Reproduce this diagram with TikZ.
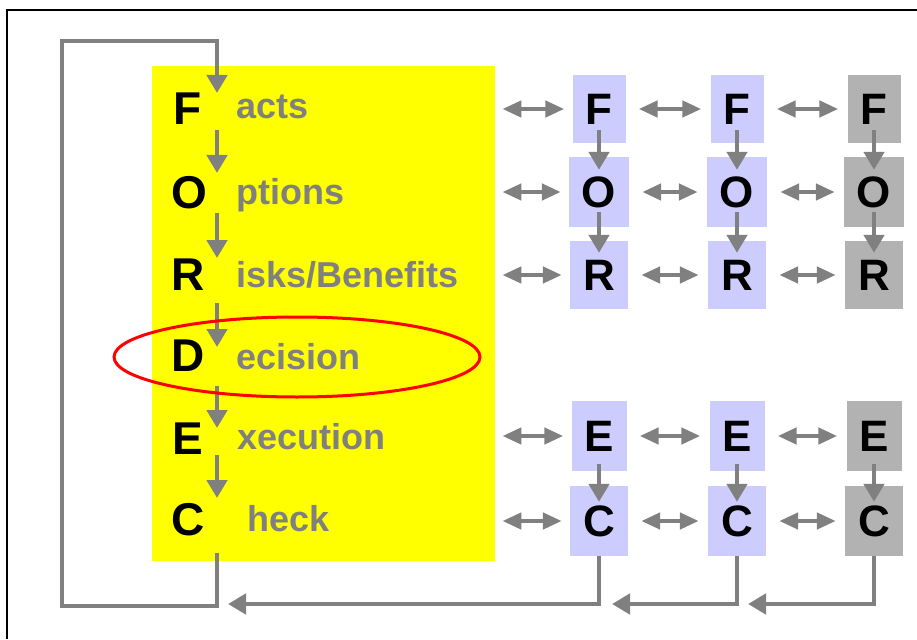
\documentclass[tikz,border=0pt]{standalone}
\usepackage{fontspec}
\setmainfont{Liberation Sans}
\usetikzlibrary{arrows.meta,shapes.geometric,calc}
\definecolor{lav}{RGB}{204,204,255}
\definecolor{gbox}{RGB}{178,178,178}
\definecolor{arrg}{RGB}{128,128,128}
\definecolor{yel}{RGB}{255,255,0}
\definecolor{redline}{RGB}{255,0,0}
\begin{document}
\begin{tikzpicture}[x=1pt,y=-1pt,
  big/.style={font=\fontsize{46}{46}\selectfont\bfseries, inner sep=0pt, anchor=base},
  word/.style={font=\fontsize{36}{36}\selectfont\bfseries, text=arrg, inner sep=0pt, anchor=base west},
  cell/.style={font=\fontsize{44}{44}\selectfont\bfseries, inner sep=0pt},
  arr/.style={draw=arrg, line width=4.5pt, line join=miter, -{Triangle[length=18pt,width=20pt]}},
  darr/.style={draw=arrg, line width=4.5pt, {Triangle[length=19pt,width=16pt]}-{Triangle[length=19pt,width=16pt]}},
]
\useasboundingbox (0,0) rectangle (917,639);
% frame
\draw[line width=2pt] (7,639) -- (7,10) -- (917,10);
% yellow panel
\node[fill=yel, minimum width=343pt, minimum height=495pt, inner sep=0pt, anchor=north west] (Y) at (152,66) {};
% left letters and words
\node[big] (lF) at (188,125) {F};
\node[big] (lO) at (189,208) {O};
\node[big] (lR) at (188,290) {R};
\node[big] (lD) at (188,371) {D};
\node[big] (lE) at (188,454) {E};
\node[big] (lC) at (188,535) {C};
\node[word] (wF) at (236,119) {acts};
\node[word] (wO) at (236,204) {ptions};
\node[word] (wR) at (236,287) {isks/Benefits};
\node[word] (wD) at (236,369) {ecision};
\node[word] (wE) at (237,449) {xecution};
\node[word] (wC) at (247,531) {heck};
% left chain arrows
\coordinate (a1) at (217,130); \coordinate (b1) at (217,173);
\coordinate (a2) at (217,213); \coordinate (b2) at (217,258);
\coordinate (a3) at (217,303); \coordinate (b3) at (217,347);
\coordinate (a4) at (217,386); \coordinate (b4) at (217,428);
\coordinate (a5) at (217,455); \coordinate (b5) at (217,498);
\draw[arr] (a1) -- (b1);
\draw[arr] (a2) -- (b2);
\draw[arr] (a3) -- (b3);
\draw[arr] (a4) -- (b4);
\draw[arr] (a5) -- (b5);
% loop back
\coordinate (c0) at (217,553);
\coordinate (lp1) at (217,606);
\coordinate (lp2) at (62,606);
\coordinate (lp3) at (62,41);
\coordinate (lp4) at (217,41);
\coordinate (tipF) at (217,93);
\draw[arr] (c0) -- (lp1) -- (lp2) -- (lp3) -- (lp4) -- (tipF);
% red ellipse
\node[draw=redline, line width=3pt, ellipse, inner sep=0pt, minimum width=366pt, minimum height=80pt] (ell) at (297,357) {};
% right columns
\foreach \c/\x/\col in {1/599/lav, 2/737/lav, 3/874/gbox} {
  \node[cell, fill=\col, minimum width=53pt, minimum height=68pt] (F\c) at (\x,109) {F};
  \node[cell, fill=\col, minimum width=60pt, minimum height=70pt] (O\c) at (\x,192) {O};
  \node[cell, fill=\col, minimum width=58pt, minimum height=68pt] (R\c) at (\x,275) {R};
  \node[cell, fill=\col, minimum width=55pt, minimum height=70pt] (E\c) at (\x,436) {E};
  \node[cell, fill=\col, minimum width=58pt, minimum height=70pt] (C\c) at (\x,521) {C};
  \draw[arr] ([yshift=13pt]F\c.south) -- ([yshift=-13pt]O\c.north);
  \draw[arr] ([yshift=15pt]O\c.south) -- ([yshift=-12pt]R\c.north);
  \draw[arr] ([yshift=7pt]E\c.south) -- ([yshift=-16pt]C\c.north);
}
% double arrows
\foreach \r in {F,O,R,E,C} {
  \draw[darr, shorten <=7pt, shorten >=8pt] (Y.east |- \r1) -- (\r1.west);
  \draw[darr, shorten <=13pt, shorten >=9pt] (\r1.east) -- (\r2.west);
  \draw[darr, shorten <=13pt, shorten >=9pt] (\r2.east) -- (\r3.west);
}
% bottom return arrows
\coordinate (k1) at (228,604);
\coordinate (k2) at (612,604);
\coordinate (k3) at (748,604);
\draw[arr] (C1.south) |- (k1);
\draw[arr] (C2.south) |- (k2);
\draw[arr] (C3.south) |- (k3);
\end{tikzpicture}
\end{document}
